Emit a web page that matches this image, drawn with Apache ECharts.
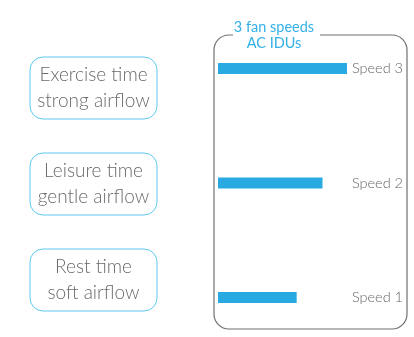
<!DOCTYPE html>
<html>
<head>
<meta charset="utf-8">
<script src="https://cdn.jsdelivr.net/npm/echarts@6/dist/echarts.min.js"></script>
<style>
  html, body { margin: 0; padding: 0; background: #fff; }
  #main { width: 414px; height: 337px; }
</style>
</head>
<body>
<div id="main"></div>
<script>
// fan speeds, bottom to top
var speeds = ['Speed 1', 'Speed 2', 'Speed 3']
var speedValues = [61, 81, 100]
var titleLines = ['3 fan speeds', 'AC IDUs']
var modeLabels = [
    'Exercise time\nstrong airflow',
    'Leisure time\ngentle airflow',
    'Rest time\nsoft airflow'
]

var blue = '#29a9e1'
var grey = '#6a6a6a'
var font = 'Lato, "Open Sans", sans-serif'

var graphics = []

// outer frame and the gap behind the title
graphics.push({
    type: 'rect', z: 1,
    shape: { x: 214, y: 35, width: 193, height: 294, r: 15 },
    style: { fill: 'none', stroke: '#707070', lineWidth: 1.2 }
})
graphics.push({
    type: 'rect', z: 2,
    shape: { x: 233, y: 30, width: 87, height: 10 },
    style: { fill: '#fff' }
})
graphics.push({
    type: 'text', z: 3,
    x: 274, y: 35,
    style: {
        text: titleLines.join('\n'), fill: '#33b1e6', font: '14.5px ' + font,
        align: 'center', verticalAlign: 'middle', lineHeight: 16
    }
})

// the three mode boxes on the left
var boxTops = [57, 153, 249]
modeLabels.forEach(function (txt, i) {
    graphics.push({
        type: 'rect', z: 1,
        shape: { x: 30, y: boxTops[i], width: 127, height: 62, r: 13 },
        style: { fill: 'none', stroke: '#5cc6f0', lineWidth: 1 }
    })
    graphics.push({
        type: 'text', z: 3,
        x: 93.5, y: boxTops[i] + 31,
        style: {
            text: txt, fill: grey, font: '300 19px ' + font,
            align: 'center', verticalAlign: 'middle', lineHeight: 26
        }
    })
})

var chart = echarts.init(document.getElementById('main'))
chart.setOption({
    animation: false,
    grid: { left: 218, right: 67, top: 68.5, height: 229 },
    xAxis: {
        type: 'value', min: 0, max: 100,
        show: false
    },
    yAxis: {
        type: 'category', data: speeds, position: 'right',
        boundaryGap: false,
        axisLine: { show: false }, axisTick: { show: false },
        splitLine: { show: false },
        axisLabel: {
            margin: 56, align: 'right', color: '#666',
            fontFamily: font, fontWeight: 300, fontSize: 14.5
        }
    },
    series: [{
        type: 'bar', data: speedValues, barWidth: 11,
        itemStyle: { color: blue }
    }],
    graphic: graphics
})
</script>
</body>
</html>
